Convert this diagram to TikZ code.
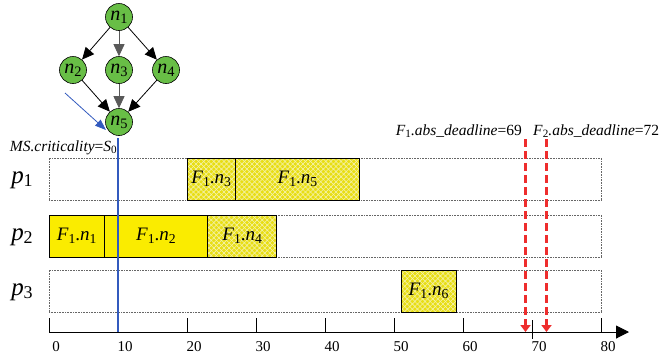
\documentclass[tikz,border=0pt]{standalone}
\usepackage{fontspec}
\setmainfont{Liberation Serif}
\usetikzlibrary{arrows.meta,patterns.meta}
\definecolor{ysolid}{RGB}{250,236,0}
\definecolor{yhatch}{RGB}{232,222,20}
\definecolor{hline}{RGB}{245,242,170}
\definecolor{ngreen}{RGB}{104,190,70}
\definecolor{bline}{RGB}{50,90,190}
\definecolor{rline}{RGB}{238,45,45}
\makeatletter
\newcommand\sbs[1]{\raisebox{-0.32ex}{\fontsize{\fpeval{0.72*\f@size}}{1}\selectfont #1}}
\makeatother
\newcommand\FN[1]{\textit{F}\sbs{1}.\textit{n}\sbs{#1}}
\newcommand\taskbox[6]{%
  \node[#5, minimum width={6.9*(#3-#2)*1pt}, anchor=north west] (#1) at ({49+6.9*#2},#4) {#6};}
\tikzset{
  dagnode/.style={circle, draw=black, line width=0.6pt, fill=ngreen, minimum size=27pt, inner sep=0pt, font=\fontsize{20}{20}\selectfont},
  dagedge/.style={line width=0.8pt, -{Triangle[length=12pt,width=11pt]}},
  rowbox/.style={draw=gray!80!black, densely dotted, line width=0.6pt, minimum height=42pt, inner sep=0pt, outer sep=0pt},
  solidtask/.style={draw=black, line width=0.8pt, fill=ysolid, minimum height=42pt, inner sep=0pt, outer sep=0pt, font=\fontsize{19}{19}\selectfont},
  hatchtask/.style={draw=black, line width=0.8pt, minimum height=42pt, inner sep=0pt, outer sep=0pt, font=\fontsize{19}{19}\selectfont,
    preaction={fill=yhatch},
    preaction={pattern={Lines[angle=45,distance=3.6pt,line width=0.6pt]}, pattern color=hline},
    preaction={pattern={Lines[angle=-45,distance=3.6pt,line width=0.6pt]}, pattern color=hline}},
  plabel/.style={font=\fontsize{25}{25}\selectfont},
  ticklabel/.style={font=\fontsize{15}{15}\selectfont},
  deadlabel/.style={font=\fontsize{15.5}{15.5}\selectfont, inner sep=0pt},
  reddash/.style={draw=rline, line width=2.1pt, dash pattern=on 8pt off 4pt, -{Triangle[length=7pt,width=10pt,fill=rline]}},
}
\begin{document}
\begin{tikzpicture}[x=1pt,y=-1pt]
\useasboundingbox (0,0) rectangle (660,360);
% DAG
\node[dagnode] (n1) at (119,17) {\textit{n}\sbs{1}};
\node[dagnode] (n2) at (73,70) {\textit{n}\sbs{2}};
\node[dagnode] (n3) at (119,70) {\textit{n}\sbs{3}};
\node[dagnode] (n4) at (166,70) {\textit{n}\sbs{4}};
\node[dagnode] (n5) at (119,122) {\textit{n}\sbs{5}};
\draw[dagedge] (n1) -- (n2);
\draw[dagedge, gray!70!black] (n1) -- (n3);
\draw[dagedge] (n1) -- (n4);
\draw[dagedge] (n2) -- (n5);
\draw[dagedge, gray!70!black] (n3) -- (n5);
\draw[dagedge] (n4) -- (n5);
% rows
\node[rowbox, minimum width=552pt, anchor=north west] (r1) at (49,158) {};
\node[rowbox, minimum width=552pt, anchor=north west] (r2) at (49,215) {};
\node[rowbox, minimum width=552pt, anchor=north west] (r3) at (49,270) {};
\node[plabel] (p1) at (22,180) {\textit{p}\sbs{1}};
\node[plabel] (p2) at (22,237) {\textit{p}\sbs{2}};
\node[plabel] (p3) at (22,292) {\textit{p}\sbs{3}};
% tasks
\taskbox{t3}{20}{27}{158}{hatchtask}{\FN{3}}
\taskbox{t5}{27}{45}{158}{hatchtask}{\FN{5}}
\taskbox{t1}{0}{8}{215}{solidtask}{\FN{1}}
\taskbox{t2}{8}{23}{215}{solidtask}{\FN{2}}
\taskbox{t4}{23}{33}{215}{hatchtask}{\FN{4}}
\taskbox{t6}{51}{59}{270}{hatchtask}{\FN{6}}
% axis
\coordinate (ax0) at (49,332);
\coordinate (ax1) at (629,332);
\draw[line width=1pt, -{Triangle[length=13pt,width=13pt]}] (ax0) -- (ax1);
\foreach \t in {0,10,20,30,40,50,60,80}{
  \draw[line width=0.8pt] ({49+6.9*\t},318) -- ({49+6.9*\t},332);
  \node[ticklabel] (tl\t) at ({56+6.9*\t},347) {\t};
}
\draw[line width=0.8pt] ({49+6.9*70},320) -- ({49+6.9*70},339);
\node[ticklabel] (tl70) at ({56+6.9*70},347) {70};
% criticality
\coordinate (bt) at (118,138);
\coordinate (bb) at (118,332);
\draw[bline, line width=1.1pt] (bt) -- (bb);
\coordinate (ba0) at (65,93);
\coordinate (ba1) at (106,130);
\draw[bline, line width=0.8pt, -{Triangle[length=11pt,width=8pt]}] (ba0) -- (ba1);
\node[deadlabel, anchor=east] (ms) at (117,148) {\textit{MS.criticality}=\textit{S}\sbs{0}};
% deadlines
\coordinate (d1t) at (525.5,139);
\coordinate (d1b) at (525.5,332);
\coordinate (d2t) at (546.5,139);
\coordinate (d2b) at (546.5,332);
\draw[reddash] (d1t) -- (d1b);
\draw[reddash] (d2t) -- (d2b);
\node[deadlabel, anchor=east] (f1d) at (522,131) {\textit{F}\sbs{1}\textit{.abs\_deadline}=69};
\node[deadlabel, anchor=west] (f2d) at (533,131) {\textit{F}\sbs{2}\textit{.abs\_deadline}=72};
\end{tikzpicture}
\end{document}
